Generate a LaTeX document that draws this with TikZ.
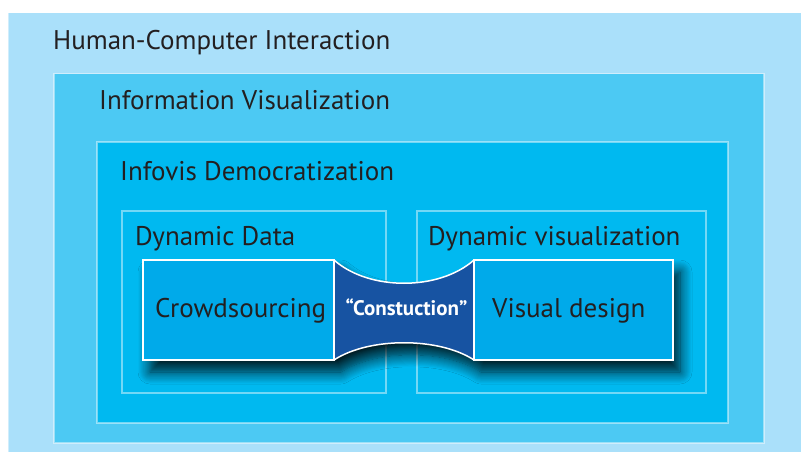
\documentclass[tikz,border=0pt]{standalone}
\usepackage{fontspec}
\setmainfont{PT Sans}
\usetikzlibrary{shadows.blur}
\definecolor{hcicol}{RGB}{170,224,250}
\definecolor{ivcol}{RGB}{76,201,243}
\definecolor{idcol}{RGB}{0,185,240}
\definecolor{boxcol}{RGB}{0,170,234}
\definecolor{conscol}{RGB}{26,76,156}
\definecolor{textcol}{RGB}{35,31,32}
\begin{document}
\begin{tikzpicture}
[x=1pt,y=-1pt,
  framedecorate/.style={draw=white,draw opacity=0.45,line width=1.5pt,anchor=north west,inner sep=0pt},%
  boxdecorate/.style={anchor=north west,inner sep=0pt,outer sep=0pt},%
  linedecorate/.style={draw=white,line width=1.5pt},%
  labeldecorate/.style={anchor=base west,inner sep=0pt,text=textcol,font=\fontsize{27}{32}\selectfont}]
\useasboundingbox (0,0) rectangle (801,452);
\fill[white] (0,0) rectangle (801,452);
%% nested frames
\foreach \name/\x/\y/\w/\h/\col in {
  hci/7/12/800/446/hcicol, iv/53/73/710/369/ivcol,
  id/96/141/631/281/idcol, dd/121/210/264/182/idcol,
  dv/416/210/289/182/idcol}
{
  \node (\name) at (\x,\y) [framedecorate,fill=\col,minimum width=\w,minimum height=\h] {};
}
%% inner boxes
\node (crowd) at (143,260) [boxdecorate,minimum width=191,minimum height=100] {};
\node (visual) at (474,260) [boxdecorate,minimum width=199,minimum height=100] {};
%% shadow of boxes and construction
\path[fill=boxcol,blur shadow={shadow xshift=7pt,shadow yshift=-12pt,shadow blur radius=12pt,shadow blur steps=12,shadow opacity=85}]
  (crowd.north west) -- (crowd.north east)
  .. controls +(35,31) and +(-35,31) .. (visual.north west)
  -- (visual.north east) -- (visual.south east) -- (visual.south west)
  .. controls +(-35,-23) and +(35,-23) .. (crowd.south east)
  -- (crowd.south west) -- cycle;
%% construction
\fill[conscol,fill opacity=0.92] (crowd.north east)
  .. controls +(35,31) and +(-35,31) .. (visual.north west)
  -- (visual.south west)
  .. controls +(-35,-23) and +(35,-23) .. (crowd.south east) -- cycle;
\draw[linedecorate] (crowd.north east) .. controls +(35,31) and +(-35,31) .. (visual.north west);
\draw[linedecorate] (visual.south west) .. controls +(-35,-23) and +(35,-23) .. (crowd.south east);
\draw[linedecorate] (crowd.north west) rectangle (crowd.south east);
\draw[linedecorate] (visual.north west) rectangle (visual.south east);
%% labels
\foreach \nodename/\txt/\x/\y in {
  hcilabel/Human-Computer Interaction/53/50,
  ivlabel/Information Visualization/99/110,
  idlabel/Infovis Democratization/120/180,
  ddlabel/Dynamic Data/135/245,
  dvlabel/Dynamic visualization/428/245,
  crowdlabel/Crowdsourcing/155/317,
  visuallabel/Visual design/492/317}
{
  \node (\nodename) at (\x,\y) [labeldecorate] {\txt};
}
\node (conslabel) at (406.5,315) [anchor=base,inner sep=0pt,text=white,font=\bfseries\fontsize{21}{25}\selectfont] {“Constuction”};
\end{tikzpicture}
\end{document}
